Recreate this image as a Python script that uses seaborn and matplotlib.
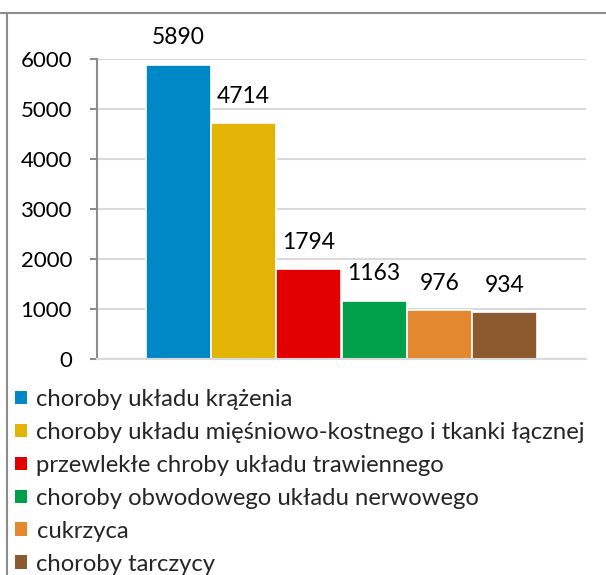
import matplotlib
matplotlib.use("Agg")
import matplotlib.pyplot as plt
import seaborn as sns
import pandas as pd
from matplotlib.patches import Patch
from matplotlib.lines import Line2D

categories = ["choroby układu krążenia",
              "choroby układu mięśniowo-kostnego i tkanki łącznej",
              "przewlekłe chroby układu trawiennego",
              "choroby obwodowego układu nerwowego",
              "cukrzyca",
              "choroby tarczycy"]
values = [5890, 4714, 1794, 1163, 976, 934]
colors = ["#0088C6", "#E2B406", "#E30000", "#00A04A", "#E3882F", "#8B5A2E"]
yticks = [0, 1000, 2000, 3000, 4000, 5000, 6000]

sns.set_theme(style="white")
plt.rcParams['font.family'] = ['Lato', 'DejaVu Sans']

df = pd.DataFrame({"g": [""] * len(values), "cat": categories, "val": values})

fig = plt.figure(figsize=(6.06, 5.75), dpi=100)
ax = fig.add_axes([97/606, 1-359/575, (586-97)/606, (359-59)/575])

sns.barplot(data=df, x="g", y="val", hue="cat", hue_order=categories,
            palette=colors, saturation=1, width=0.8, edgecolor="white", linewidth=1.2,
            legend=False, ax=ax)
ax.set_xlim(-0.5, 0.5)
ax.set_ylim(0, 6000)
ax.set_yticks(yticks)
ax.set_yticklabels([str(t) for t in yticks], fontsize=16)
ax.set_xticks([])
ax.set_xlabel("")
ax.set_ylabel("")
ax.yaxis.grid(True, color="#D9D9D9", linewidth=1.5)
ax.set_axisbelow(True)
for s in ["top", "right"]:
    ax.spines[s].set_visible(False)
ax.spines["left"].set_color("#8C8C8C")
ax.spines["left"].set_linewidth(1.5)
ax.spines["bottom"].set_color("#D9D9D9")
ax.spines["bottom"].set_linewidth(1.5)
ax.tick_params(axis="y", left=True, length=5, width=1.5, color="#8C8C8C",
               pad=13, labelcolor="black")

for cont in ax.containers:
    ax.bar_label(cont, labels=[str(int(v)) for v in cont.datavalues],
                 fontsize=16.5, padding=12, color="black")

handles = [Patch(facecolor=c, edgecolor="none") for c in colors]
fig.legend(handles, categories, loc="upper left", bbox_to_anchor=(15/606, 1-389/575),
           frameon=False, fontsize=17.2, handlelength=0.5, handleheight=0.5,
           handletextpad=0.4, labelspacing=0.5, borderaxespad=0, borderpad=0)

fig.add_artist(Line2D([0, 1], [1-13/575, 1-13/575], color="#8C8C8C", linewidth=1.5,
                      transform=fig.transFigure))
fig.add_artist(Line2D([7/606, 7/606], [0, 1-13/575], color="#8C8C8C", linewidth=1.5,
                      transform=fig.transFigure))

fig.savefig("out.png", dpi=100)
